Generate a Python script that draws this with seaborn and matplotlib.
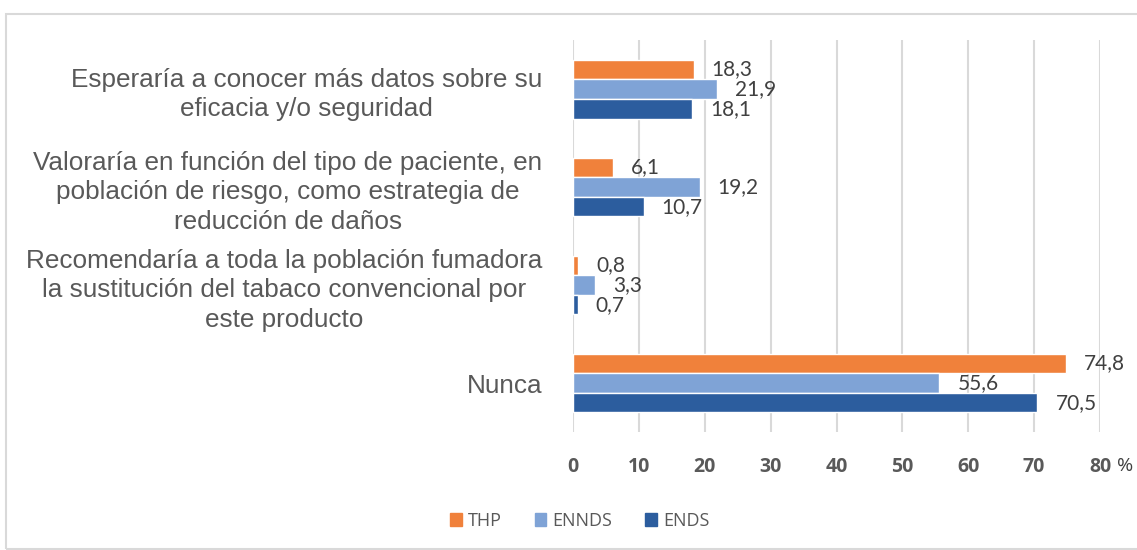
import matplotlib
matplotlib.use("Agg")
import matplotlib.pyplot as plt
import matplotlib.patches as mpatches
import matplotlib.transforms as mtransforms
import numpy as np
import pandas as pd
import seaborn as sns

sns.set_style('white')
plt.rcParams['font.family'] = ['Liberation Sans', 'DejaVu Sans']

# Data
categories = [
    "Esperaría a conocer más datos sobre su\neficacia y/o seguridad",
    "Valoraría en función del tipo de paciente, en\npoblación de riesgo, como estrategia de\nreducción de daños",
    "Recomendaría a toda la población fumadora\nla sustitución del tabaco convencional por\neste producto",
    "Nunca",
]
series = ["THP", "ENNDS", "ENDS"]
thp = [18.3, 6.1, 0.8, 74.8]
ennds = [21.9, 19.2, 3.3, 55.6]
ends = [18.1, 10.7, 0.7, 70.5]
x_ticks = [0, 10, 20, 30, 40, 50, 60, 70, 80]

colors = {"THP": "#F0813B", "ENNDS": "#7FA3D6", "ENDS": "#2C5D9E"}

df = pd.DataFrame({
    "cat": categories * 3,
    "serie": ["THP"] * 4 + ["ENNDS"] * 4 + ["ENDS"] * 4,
    "valor": thp + ennds + ends,
})

fig = plt.figure(figsize=(11.37, 5.5), dpi=100)
ax = fig.add_axes([0.504, 0.2145, 0.4635, 0.7125])

sns.barplot(data=df, y="cat", x="valor", hue="serie", order=categories,
            hue_order=series, palette=colors, orient="h", width=0.6,
            saturation=1, ax=ax, legend=True)

# Value labels with comma decimals
for cont in ax.containers:
    vals = [r.get_width() for r in cont]
    ax.bar_label(cont, labels=[f"{v:.1f}".replace(".", ",") for v in vals],
                 padding=13, fontsize=15, color="#404040", family="Lato")

ax.set_xlim(0, 80)
ax.set_ylim(3.5, -0.5)
ax.set_xticks(x_ticks)
ax.set_xticklabels([str(t) for t in x_ticks], fontsize=14, fontweight="bold",
                   color="#595959", family="Open Sans")
ax.tick_params(axis="x", length=0, pad=18)
ax.tick_params(axis="y", length=0, pad=22)
for lbl in ax.get_yticklabels():
    lbl.set_fontsize(18.8)
    lbl.set_color("#595959")
    lbl.set_multialignment("center")
    lbl.set_linespacing(1.28)
ax.grid(axis="x", color="#D9D9D9", linewidth=1.5)
ax.set_axisbelow(True)
for s in ax.spines.values():
    s.set_visible(False)
ax.set_xlabel("")
ax.set_ylabel("")

# "%" next to the last tick
trans = mtransforms.blended_transform_factory(ax.transData, ax.transAxes)
offset = mtransforms.ScaledTranslation(12 / 72, 0, fig.dpi_scale_trans)
ax.text(80, -0.087, "%", transform=trans + offset, ha="left", va="center",
        fontsize=14, color="#404040", family="Open Sans", clip_on=False)

# Legend at bottom
handles = [mpatches.Patch(color=colors[s], label=s) for s in series]
ax.legend_.remove()
fig.legend(handles=handles, loc="center", bbox_to_anchor=(0.51, 0.053), ncol=3,
           frameon=False, handlelength=0.65, handleheight=0.65,
           handletextpad=0.35, columnspacing=1.8, labelcolor="#595959",
           prop={"family": "Open Sans", "size": 13})

# Chart border
fig.patches.append(mpatches.Rectangle((6 / 1137, 0.002), 1.2, 1 - 14 / 550 - 0.002,
                                      transform=fig.transFigure, fill=False,
                                      edgecolor="#D9D9D9", linewidth=1.5))

fig.savefig("out.png", dpi=100)
